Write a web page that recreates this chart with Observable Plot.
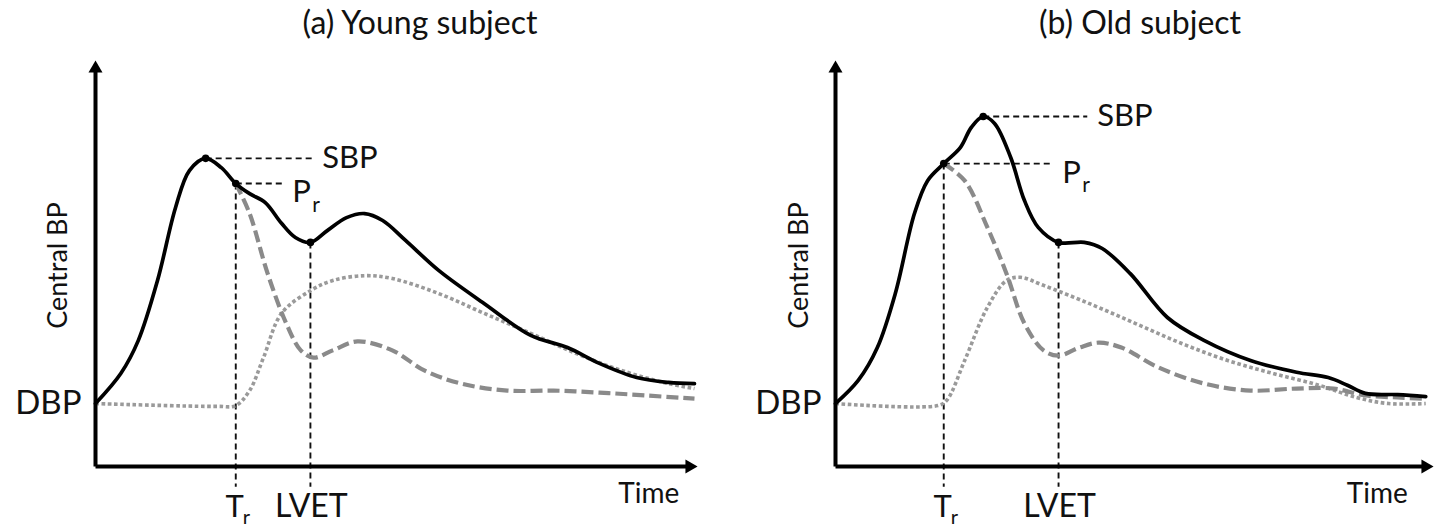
<!DOCTYPE html>
<html><head><meta charset="utf-8">
<script src="https://cdn.jsdelivr.net/npm/d3@7"></script>
<script src="https://cdn.jsdelivr.net/npm/@observablehq/plot@0.6"></script>
<style>
body{margin:0;background:#fff;}
#wrap{position:relative;width:1440px;height:529px;overflow:hidden;font-family:Lato,"Open Sans",sans-serif;}
.title{position:absolute;top:0;height:44px;line-height:44px;font-size:32px;transform:translateX(-50%);white-space:nowrap;color:#111}
#pa{position:absolute;left:0;top:44px}
#pb{position:absolute;left:720px;top:44px}
</style></head><body>
<div id="wrap">
<div class="title" id="ta" style="left:420px"></div>
<div class="title" id="tb" style="left:1140px"></div>
<div id="pa"></div><div id="pb"></div>
</div>
<script>
// ---- Data (time and pressure in arbitrary units; axis origin = 0) ----
const titles = ["(a) Young subject", "(b) Old subject"];
const dbpLevel = 15.5;
const axisTop = 100, axisEnd = 100;

// (a) Young subject
const youngTotal = [[0,15.5],[4.2,22.9],[7.1,31.0],[10.3,45.8],[13.3,63.8],[15.6,72.9],[18.3,75.9],[20.9,73.6],[23.3,69.7],[25.6,67.2],[28.2,65.0],[30.9,59.9],[33.2,56.4],[35.7,55.2],[38.5,58.1],[41.7,61.3],[44.7,62.3],[47.7,60.6],[51.5,55.7],[57.0,48.3],[64.6,40.1],[72.3,32.3],[78.4,29.3],[83.7,25.4],[89.9,21.9],[95.2,20.7],[99.5,20.4]];
const youngForward = [[23.3,69.7],[25.6,62.3],[28.6,47.5],[31.7,35.2],[34.1,28.6],[36.2,26.8],[39.4,28.6],[43.5,30.8],[49.3,28.6],[54.7,23.6],[60.8,20.4],[68.4,18.7],[76.1,18.7],[83.7,18.2],[91.4,17.5],[99.5,16.7]];
const youngReflected = [[0,15.5],[20.3,14.8],[23.3,15.0],[25.6,18.7],[27.9,26.8],[30.9,37.7],[35.7,43.3],[39.4,45.8],[44.7,47.0],[49.3,46.3],[57.0,42.6],[64.6,37.7],[72.3,32.8],[79.9,27.8],[87.5,23.6],[95.2,20.4],[99.5,19.2]];
const youngSBP = [18.3, 75.9], youngPr = [23.3, 69.7], youngLVET = [35.7, 55.2];
const youngSbpLineEnd = 36.0, youngPrLineEnd = 31.2;

// (b) Old subject
const oldTotal = [[0,15.5],[3.8,21.2],[7.0,29.3],[10.0,42.6],[13.2,62.3],[15.4,70.4],[18.1,74.6],[20.9,78.6],[22.7,83.5],[24.7,86.2],[26.6,84.5],[29.3,76.1],[31.6,65.5],[33.9,58.9],[37.3,55.2],[41.6,55.2],[44.6,53.7],[49.3,47.5],[55.5,36.7],[61.7,31.0],[69.4,26.1],[77.1,23.2],[82.4,21.9],[85.6,20.0],[88.6,18.0],[94.0,17.7],[98.7,17.2]];
const oldForward = [[18.1,74.6],[21.6,70.4],[25.4,58.9],[28.6,47.5],[31.6,35.2],[34.8,28.6],[37.3,27.3],[40.8,29.3],[44.0,30.5],[47.8,29.3],[54.0,24.4],[61.7,20.4],[69.4,18.7],[77.1,19.2],[83.3,19.2],[88.6,17.5],[94.0,17.0],[98.7,16.7]];
const oldReflected = [[0,15.5],[17.1,15.0],[18.6,16.3],[21.6,26.1],[25.4,39.2],[28.6,45.8],[30.9,46.6],[34.8,44.6],[42.5,40.1],[50.2,35.2],[57.9,30.3],[65.6,26.1],[73.2,22.9],[80.9,20.0],[87.1,17.0],[92.5,15.5],[98.7,15.5]];
const oldSBP = [24.7, 86.2], oldPr = [18.1, 74.6], oldLVET = [37.3, 55.2];
const oldSbpLineEnd = 42.1, oldPrLineEnd = 36.4;

const guideBottom = -5.0;
const labelBelow = -9.9;
const timeLabelY = -6.9;
const timeLabelX = [91.9, 90.6];
const yLabel = "Central BP", yLabelPos = [-6.1, 49.5];

document.getElementById("ta").textContent = titles[0];
document.getElementById("tb").textContent = titles[1];

function panel(o) {
  const F = "Lato, 'Open Sans', sans-serif";
  const ink = "#111";
  const guides = [
    {x1: o.sbp[0], y1: o.sbp[1], x2: o.sbpEnd, y2: o.sbp[1]},
    {x1: o.pr[0], y1: o.pr[1], x2: o.prEnd, y2: o.pr[1]},
    {x1: o.pr[0], y1: o.pr[1], x2: o.pr[0], y2: guideBottom},
    {x1: o.lvet[0], y1: o.lvet[1], x2: o.lvet[0], y2: guideBottom}
  ];
  const axes = [
    {x1: 0, y1: 0, x2: axisEnd - 1.2, y2: 0},
    {x1: 0, y1: 0, x2: 0, y2: axisTop - 2.5}
  ];
  const txt = (data, opts) => Plot.text(data, {x: d => d.x, y: d => d.y, text: d => d.t, fontFamily: F, fill: ink, ...opts});
  return Plot.plot({
    width: 720, height: 485,
    marginLeft: o.ml, marginRight: o.mr, marginTop: 16, marginBottom: 63,
    x: {domain: [0, axisEnd], axis: null},
    y: {domain: [0, axisTop], axis: null},
    style: {background: "white", overflow: "visible"},
    marks: [
      Plot.link(guides, {x1: "x1", y1: "y1", x2: "x2", y2: "y2", stroke: "#111", strokeWidth: 1.9, strokeDasharray: "6,4", strokeLinecap: "butt"}),
      Plot.line(o.reflected, {x: d => d[0], y: d => d[1], curve: "catmull-rom", stroke: "#9a9a9a", strokeWidth: 3.6, strokeDasharray: "3.6,2.6", strokeLinecap: "butt"}),
      Plot.line(o.forward, {x: d => d[0], y: d => d[1], curve: "catmull-rom", stroke: "#8a8a8a", strokeWidth: 4.2, strokeDasharray: "12,5", strokeLinecap: "butt"}),
      Plot.line(o.total, {x: d => d[0], y: d => d[1], curve: "catmull-rom", stroke: "#000", strokeWidth: 3.7}),
      Plot.dot([o.sbp, o.pr, o.lvet], {x: d => d[0], y: d => d[1], r: 3.8, fill: "#000"}),
      Plot.link(axes, {x1: "x1", y1: "y1", x2: "x2", y2: "y2", stroke: "#000", strokeWidth: 4, strokeLinecap: "butt"}),
      Plot.dot([[0, axisTop]], {x: d => d[0], y: d => d[1], symbol: "triangle", r: 5.2, fill: "#000", stroke: "none", dy: 8}),
      Plot.dot([[axisEnd, 0]], {x: d => d[0], y: d => d[1], symbol: "triangle", r: 5.2, fill: "#000", stroke: "none", rotate: 90, dx: -8}),
      // big labels
      txt([{t: "SBP", x: o.sbpEnd, y: o.sbp[1]}], {textAnchor: "start", dx: 10, dy: 0, fontSize: 31}),
      txt([{t: "P", x: o.prEnd, y: o.pr[1]}], {textAnchor: "start", dx: 9, dy: 9, fontSize: 31}),
      txt([{t: "r", x: o.prEnd, y: o.pr[1]}], {textAnchor: "start", dx: 29, dy: 22, fontSize: 21}),
      txt([{t: "DBP", x: 0, y: dbpLevel}], {textAnchor: "end", dx: -14, fontSize: 33}),
      txt([{t: "T", x: o.pr[0], y: labelBelow}], {textAnchor: "middle", dx: -1, fontSize: 31}),
      txt([{t: "r", x: o.pr[0], y: labelBelow}], {textAnchor: "start", dx: 7, dy: 11, fontSize: 20}),
      txt([{t: "LVET", x: o.lvet[0], y: labelBelow}], {textAnchor: "middle", dx: 1, fontSize: 32}),
      txt([{t: "Time", x: o.timeX, y: timeLabelY}], {textAnchor: "middle", fontSize: 28}),
      txt([{t: yLabel, x: yLabelPos[0], y: yLabelPos[1]}], {rotate: -90, fontSize: 27})
    ]
  });
}

document.getElementById("pa").append(panel({
  total: youngTotal, forward: youngForward, reflected: youngReflected,
  sbp: youngSBP, pr: youngPr, lvet: youngLVET, sbpEnd: youngSbpLineEnd, prEnd: youngPrLineEnd,
  timeX: timeLabelX[0], ml: 95, mr: 23
}));
document.getElementById("pb").append(panel({
  total: oldTotal, forward: oldForward, reflected: oldReflected,
  sbp: oldSBP, pr: oldPr, lvet: oldLVET, sbpEnd: oldSbpLineEnd, prEnd: oldPrLineEnd,
  timeX: timeLabelX[1], ml: 115, mr: 7
}));
</script>
</body></html>
